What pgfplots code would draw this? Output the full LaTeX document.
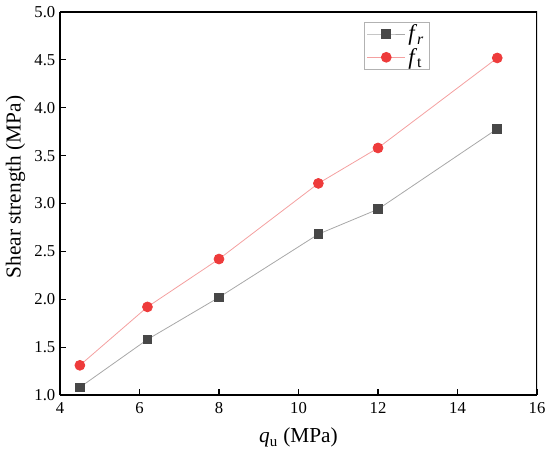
\documentclass[border=0pt]{standalone}
\usepackage{pgfplots}
\pgfplotsset{compat=1.18}
\usepackage{fontspec}
\setmainfont{Liberation Serif}
\definecolor{frc}{HTML}{474747}
\definecolor{frl}{HTML}{A8A8A8}
\definecolor{ftc}{HTML}{EE3B3B}
\definecolor{ftl}{HTML}{F4A0A0}
\begin{document}
\begin{tikzpicture}
\begin{axis}[
  scale only axis,
  width=357.75pt, height=287.25pt,
  xmin=4, xmax=16, ymin=1.0, ymax=5.0,
  xtick={4,6,...,16},
  ytick={1.0,1.5,...,5.0},
  yticklabel style={/pgf/number format/.cd,fixed,fixed zerofill,precision=1},
  /pgf/number format/assume math mode=true,
  tick align=inside,
  axis x line*=bottom, axis y line*=left,
  major tick length=4.5pt,
  tick style={black, line width=0.8pt},
  axis line style={line width=0.9pt},
  ticklabel style={font=\fontsize{12.5}{14}\selectfont},
  xticklabel style={yshift=-2pt},
  xlabel={\textit{q}\textsubscript{u} (MPa)},
  ylabel={Shear strength (MPa)},
  label style={font=\fontsize{16}{18}\selectfont},
  xlabel style={yshift=-4pt},
  ylabel style={at={(ticklabel cs:0.543)}},
  legend style={at={(0.637,0.974)}, anchor=north west, draw=gray!60, line width=0.6pt,
    font=\fontsize{17}{17}\selectfont, row sep=0pt, inner xsep=2pt, inner ysep=0pt},
  legend image code/.code={\draw[mark repeat=2,mark phase=2,#1] plot coordinates {(0cm,0cm) (0.5cm,0cm) (1cm,0cm)};},
  legend cell align=left,
]
\draw[line width=0.9pt] (rel axis cs:0,1) -- (rel axis cs:1,1) -- (rel axis cs:1,0);
\coordinate (sw) at (rel axis cs:0,0);
\coordinate (ne) at (rel axis cs:1,1);
\addplot[color=frl, line width=0.6pt, mark=square*, mark size=3.3pt, mark options={fill=frc, draw=frc}]
  coordinates {(4.5,1.08) (6.2,1.58) (8,2.02) (10.5,2.68) (12,2.94) (15,3.78)};
\addlegendentry{\textit{f}\textsubscript{\textit{r}}}
\addplot[color=ftl, line width=0.6pt, mark=*, mark size=3.7pt, mark options={fill=ftc, draw=ftc}]
  coordinates {(4.5,1.31) (6.2,1.92) (8,2.42) (10.5,3.21) (12,3.58) (15,4.52)};
\addlegendentry{\textit{f}\textsubscript{t}}
\end{axis}
\pgfresetboundingbox
\path[use as bounding box] ([shift={(-45pt,-44.25pt)}]sw) rectangle ([shift={(9.75pt,9pt)}]ne);
\end{tikzpicture}
\end{document}
